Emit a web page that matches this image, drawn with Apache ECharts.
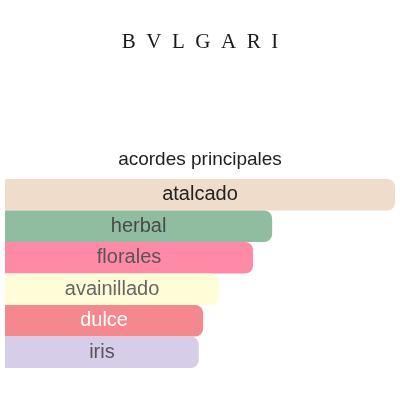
<!DOCTYPE html>
<html>
<head>
<meta charset="utf-8">
<script src="https://cdn.jsdelivr.net/npm/echarts@6/dist/echarts.min.js"></script>
<style>html,body{margin:0;padding:0;background:#fff}#c{width:400px;height:400px}</style>
</head>
<body>
<div id="c"></div>
<script>
const categories = ['atalcado', 'herbal', 'florales', 'avainillado', 'dulce', 'iris'];
const values = [100, 68.5, 63.6, 54.9, 50.8, 49.7];
const barColors = ['#EFDCCB', '#90BCA0', '#FE8AA8', '#FFFDD8', '#F4888E', '#D6CEE8'];
const labelColors = ['#222222', '#4a4a4a', '#555555', '#666666', '#ffffff', '#555555'];

const chart = echarts.init(document.getElementById('c'));
chart.setOption({
  backgroundColor: '#ffffff',
  animation: false,
  title: [
    {
      text: 'B\u2002V\u2002L\u2002G\u2002A\u2002R\u2002I',
      left: 'center', top: 27,
      textStyle: { fontFamily: 'Liberation Serif', fontSize: 21, fontWeight: 'normal', color: '#1a1a1a' }
    },
    {
      text: 'acordes principales',
      left: 'center', top: 145,
      textStyle: { fontFamily: 'Liberation Sans', fontSize: 19, fontWeight: 'normal', color: '#222222' }
    }
  ],
  grid: { left: 5, right: 5, top: 179, bottom: 32, containLabel: false },
  xAxis: { type: 'value', min: 0, max: 100, show: false },
  yAxis: { type: 'category', data: categories, inverse: true, show: false },
  series: [{
    type: 'bar',
    barCategoryGap: '0%',
    data: values.map((v, i) => ({
      value: v,
      itemStyle: { color: barColors[i], borderRadius: [0, 8, 8, 0] },
      label: { color: labelColors[i] }
    })),
    label: {
      show: true,
      position: 'inside',
      formatter: p => p.name,
      fontFamily: 'Liberation Sans',
      fontSize: 20
    }
  }]
});
</script>
</body>
</html>
